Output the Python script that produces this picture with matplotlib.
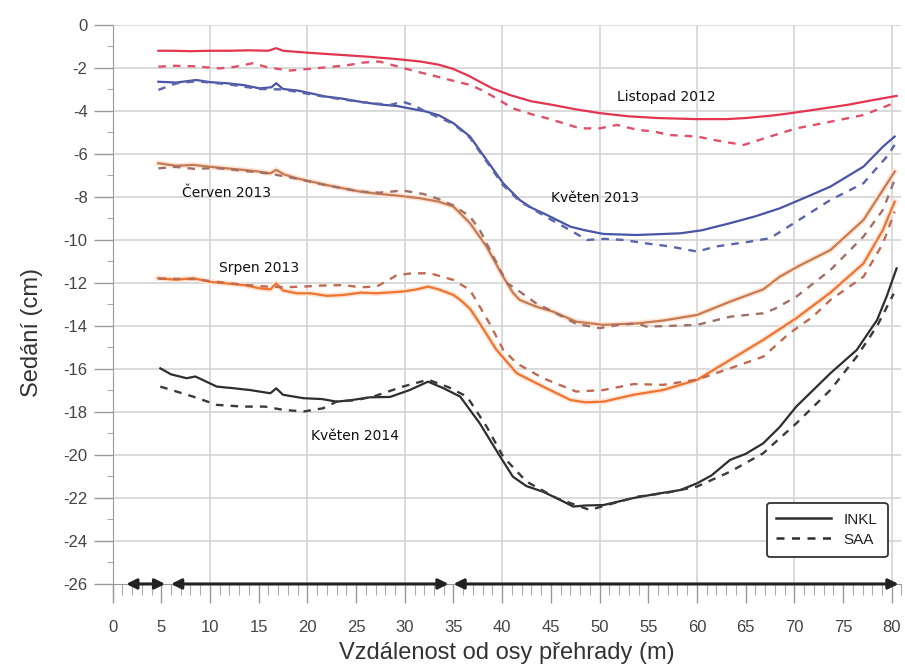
import matplotlib
matplotlib.use("Agg")
import matplotlib.pyplot as plt
import matplotlib.patheffects as pe
from matplotlib.ticker import MultipleLocator

plt.rcParams['axes.unicode_minus'] = False
plt.rcParams['font.family'] = ['Liberation Sans', 'DejaVu Sans']

# --- Listopad 2012 ---
lis12_inkl_x = [4.7, 6, 8, 10, 12, 14, 16, 16.8, 17.5, 20, 23, 26, 29, 31.6, 33.5, 35, 36.5, 37.7, 39,
                40.8, 43, 45.2, 47.5, 50, 53, 56, 60, 63, 65, 68, 70, 73, 75.4, 78, 80.5]
lis12_inkl_y = [-1.2, -1.2, -1.22, -1.2, -1.2, -1.18, -1.2, -1.08, -1.2, -1.29, -1.38, -1.47, -1.58, -1.7,
                -1.85, -2.05, -2.35, -2.64, -2.95, -3.26, -3.55, -3.72, -3.92, -4.1, -4.25, -4.33, -4.38,
                -4.38, -4.33, -4.2, -4.08, -3.88, -3.72, -3.5, -3.3]
lis12_saa_x = [4.7, 6.5, 8.3, 11, 12.5, 14.4, 16, 18.2, 20, 21.9, 24, 25.7, 27.4, 29.8, 31.5, 33.3, 35,
               36.7, 38, 39.4, 41.1, 43, 44.6, 46.5, 48, 50, 51.8, 53.9, 55.5, 57.2, 60, 62.7, 64.8, 67.5,
               70.2, 73.7, 77.1, 80.2]
lis12_saa_y = [-1.94, -1.9, -1.92, -2.02, -1.95, -1.78, -1.98, -2.12, -2.05, -1.97, -1.88, -1.75, -1.7,
               -2.0, -2.2, -2.4, -2.6, -2.79, -3.05, -3.41, -3.88, -4.15, -4.34, -4.6, -4.81, -4.81, -4.65,
               -4.88, -4.95, -5.12, -5.19, -5.43, -5.58, -5.19, -4.81, -4.5, -4.19, -3.64]

# --- Květen 2013 ---
kve13_inkl_x = [4.7, 6.5, 8.6, 10, 11.7, 13.5, 15.1, 16.3, 16.8, 17.5, 19, 21.9, 23.5, 25.4, 27.4, 29.2,
                30.7, 32.2, 33.5, 35, 36.7, 38.4, 40.1, 41.8, 43, 44.6, 47, 48.5, 50.4, 53.8, 58.3, 60.5,
                63.4, 66, 68.5, 71, 73.7, 77.1, 79.1, 80.3]
kve13_inkl_y = [-2.64, -2.68, -2.56, -2.66, -2.71, -2.8, -2.95, -2.9, -2.71, -2.98, -3.05, -3.33, -3.42,
                -3.57, -3.7, -3.77, -3.9, -4.03, -4.2, -4.57, -5.19, -6.28, -7.36, -8.14, -8.5, -8.84,
                -9.38, -9.55, -9.72, -9.77, -9.69, -9.55, -9.22, -8.9, -8.53, -8.05, -7.52, -6.59, -5.66,
                -5.19]
kve13_saa_x = [4.7, 6.5, 8.6, 11.7, 15.1, 17.5, 21.9, 25.4, 28.5, 29.8, 31, 32.2, 35, 36.7, 38.4, 40.1,
               41.8, 44.6, 47, 48.7, 50.5, 52.5, 54.8, 57.2, 60, 62, 65.4, 67.5, 70.2, 73.7, 77.1, 79.5,
               80.3]
kve13_saa_y = [-3.02, -2.72, -2.62, -2.75, -2.98, -3.0, -3.35, -3.58, -3.72, -3.57, -3.75, -4.05, -4.6,
               -5.25, -6.35, -7.45, -8.2, -8.95, -9.55, -10.0, -9.95, -10.0, -10.16, -10.3, -10.54,
               -10.3, -10.08, -9.92, -9.15, -8.14, -7.36, -6.12, -5.58]

# --- Červen 2013 ---
cer13_inkl_x = [4.7, 6.5, 8.3, 10.5, 13.4, 15, 16.2, 16.8, 17.6, 18.9, 21.9, 25.4, 27.4, 29.5, 31.6,
                33.5, 35, 36.7, 38.4, 40.1, 41.1, 41.8, 43.5, 45.2, 47.6, 50.4, 53.9, 56.5, 60, 63.5,
                66.8, 68.5, 70.5, 73.7, 77.1, 79.1, 80.3]
cer13_inkl_y = [-6.43, -6.55, -6.51, -6.62, -6.74, -6.82, -6.9, -6.74, -6.95, -7.13, -7.44, -7.75, -7.86,
                -7.95, -8.06, -8.22, -8.45, -9.22, -10.31, -11.71, -12.45, -12.79, -13.1, -13.33, -13.8,
                -13.95, -13.88, -13.75, -13.49, -12.85, -12.3, -11.71, -11.2, -10.47, -9.07, -7.67,
                -6.82]
cer13_saa_x = [4.7, 6.5, 8.5, 10.5, 13.4, 16.2, 18.9, 21.9, 25.4, 27.4, 29.8, 31.9, 33.5, 35, 36.7, 37.7,
               39.1, 40.5, 41.8, 43.5, 45.2, 47.6, 50, 52, 53.9, 54.8, 57, 60, 63.4, 66.8, 68, 70.2, 73.7,
               77.1, 79.1, 80.3]
cer13_saa_y = [-6.67, -6.6, -6.7, -6.65, -6.78, -6.92, -7.15, -7.45, -7.75, -7.8, -7.7, -7.86, -8.1,
               -8.4, -8.91, -9.53, -10.78, -12.0, -12.4, -12.95, -13.33, -13.9, -14.1, -13.95, -13.88,
               -14.03, -14.0, -13.95, -13.57, -13.41, -13.2, -12.64, -11.4, -9.84, -8.6, -7.2]

# --- Srpen 2013 ---
srp13_inkl_x = [4.7, 6.5, 8.3, 10, 11.7, 13.5, 15.1, 16.2, 16.8, 17.5, 18.9, 20.3, 22, 23.7, 25.5, 27.1,
                29.8, 31.2, 32.4, 33.5, 35, 35.7, 36.7, 37.7, 39.4, 41.5, 44.2, 47, 48.5, 50.4, 53.5,
                56.5, 60, 63.4, 66.8, 70.2, 73.7, 77.1, 79.1, 80.3]
srp13_inkl_y = [-11.78, -11.85, -11.78, -11.95, -12.02, -12.1, -12.25, -12.3, -12.02, -12.35, -12.48,
                -12.48, -12.6, -12.56, -12.45, -12.48, -12.4, -12.3, -12.17, -12.3, -12.56, -12.79,
                -13.2, -13.88, -15.1, -16.2, -16.82, -17.44, -17.55, -17.52, -17.2, -16.98, -16.51,
                -15.58, -14.65, -13.64, -12.45, -11.09, -9.53, -8.22]
srp13_saa_x = [4.7, 8.3, 11.7, 15.1, 17.5, 19.6, 21.5, 23.7, 25.5, 27.1, 28.2, 29.2, 30.8, 32.6, 35,
               36.7, 37.3, 38.7, 40.1, 41.5, 44.2, 47.6, 50.4, 53.5, 56.5, 60, 63.4, 66.8, 69.5, 71.9,
               73.7, 77.1, 79.1, 80.3]
srp13_saa_y = [-11.8, -11.82, -12.0, -12.15, -12.2, -12.17, -12.12, -12.1, -12.2, -12.17, -11.9,
               -11.63, -11.55, -11.55, -11.86, -12.33, -12.79, -13.88, -15.1, -15.74, -16.43, -17.05,
               -16.98, -16.7, -16.74, -16.5, -15.97, -15.43, -14.34, -13.57, -12.79, -11.71, -10.16,
               -8.68]

# --- Květen 2014 ---
kve14_inkl_x = [4.9, 6, 7.6, 8.5, 10.7, 12.5, 14.1, 16.2, 16.8, 17.5, 19.6, 21.5, 23, 24.5, 26.4, 28.5,
                30.5, 32.4, 34, 35.7, 37.7, 39.8, 41.1, 42.5, 44.2, 46, 47.3, 48.5, 50.4, 53.5, 56, 58.3,
                60, 61.5, 63.4, 65, 66.8, 68.5, 70.2, 73.7, 76.4, 78.5, 79.5, 80.5]
kve14_inkl_y = [-15.97, -16.25, -16.43, -16.35, -16.82, -16.9, -16.98, -17.13, -16.9, -17.2, -17.36,
                -17.4, -17.52, -17.45, -17.32, -17.3, -16.98, -16.59, -16.9, -17.29, -18.53, -20.08,
                -21.01, -21.45, -21.71, -22.1, -22.4, -22.35, -22.33, -22.0, -21.8, -21.63, -21.32,
                -20.95, -20.23, -19.95, -19.46, -18.7, -17.75, -16.2, -15.12, -13.72, -12.6, -11.32]
kve14_saa_x = [4.9, 8.3, 10.7, 13.4, 15.6, 17.5, 19.6, 21.6, 23, 25, 27, 29.8, 32.4, 34.5, 36.4, 38.4,
               40.1, 42.5, 45.6, 49, 51, 53.9, 57, 60, 63.4, 66.8, 70.2, 73.7, 76.4, 78.5, 80.2]
kve14_saa_y = [-16.82, -17.29, -17.67, -17.75, -17.75, -17.9, -17.98, -17.83, -17.52, -17.45, -17.25,
               -16.82, -16.5, -16.85, -17.29, -18.68, -20.08, -21.24, -22.01, -22.56, -22.3, -21.94,
               -21.75, -21.47, -20.78, -19.92, -18.53, -16.98, -15.43, -14.0, -12.5]

# curve labels: text, x, y
curve_labels = [("Listopad 2012", 56.9, -3.35),
                ("Květen 2013", 49.5, -8.05),
                ("Červen 2013", 11.7, -7.8),
                ("Srpen 2013", 15.0, -11.3),
                ("Květen 2014", 24.9, -19.1)]

# measured sections along the axis (start, end) in m
sections = [(1.4, 5.4), (6.0, 34.5), (35.0, 80.7)]

x_ticks = list(range(0, 81, 5))
y_ticks = list(range(-26, 1, 2))

fig = plt.figure(figsize=(9.05, 6.69), dpi=100)
ax = fig.add_axes([0.1244, 0.1271, 0.8717, 0.8356])
ax.set_xlim(0, 81)
ax.set_ylim(-26, 0)

# grid: vertical every 10 m, horizontal every 2 cm
for gx in range(10, 81, 10):
    ax.axvline(gx, color='#d4d4d4', lw=1.2, zorder=0)
for gy in range(-24, 1, 2):
    ax.axhline(gy, color='#d4d4d4', lw=1.2, zorder=0)

series = [
    (lis12_inkl_x, lis12_inkl_y, lis12_saa_x, lis12_saa_y, '#e3354f', '#e0506a', False),
    (kve13_inkl_x, kve13_inkl_y, kve13_saa_x, kve13_saa_y, '#4a54a6', '#5a64aa', False),
    (cer13_inkl_x, cer13_inkl_y, cer13_saa_x, cer13_saa_y, '#c87a50', '#a07068', True),
    (srp13_inkl_x, srp13_inkl_y, srp13_saa_x, srp13_saa_y, '#ee7430', '#c06a50', True),
    (kve14_inkl_x, kve14_inkl_y, kve14_saa_x, kve14_saa_y, '#2e2e2e', '#3a3a3a', False),
]
for xi, yi, xs, ys, c_solid, c_dash, halo in series:
    effects = [pe.Stroke(linewidth=4.0, foreground='#fde6d8'), pe.Normal()] if halo else None
    ax.plot(xi, yi, color=c_solid, lw=1.6, solid_joinstyle='round', zorder=3, path_effects=effects)
    ax.plot(xs, ys, color=c_dash, lw=1.7, dashes=(3.2, 3.0), zorder=4)

for txt, tx, ty in curve_labels:
    ax.text(tx, ty, txt, fontsize=10, family=['DejaVu Sans'], color='#111111',
            ha='center', va='center', zorder=5)

# double arrows marking the sections along the base line
for a, b in sections:
    ax.annotate('', xy=(b, -26), xytext=(a, -26),
                arrowprops=dict(arrowstyle='<|-|>', color='#222222', lw=2.2,
                                mutation_scale=15, shrinkA=0, shrinkB=0),
                annotation_clip=False, zorder=6)

# legend
ax.plot([], [], color='#2e2e2e', lw=1.8, label='INKL')
ax.plot([], [], color='#2e2e2e', lw=1.8, dashes=(3.2, 3.0), label='SAA')
leg = ax.legend(loc='lower right', bbox_to_anchor=(0.992, 0.035), fontsize=11,
                handlelength=3.6, handletextpad=0.8, borderpad=0.65, labelspacing=0.4,
                fancybox=True, framealpha=1, edgecolor='#333333')
leg.get_frame().set_linewidth(1.3)
for t in leg.get_texts():
    t.set_color('#222222')

# axes styling
for s in ('top', 'right'):
    ax.spines[s].set_visible(False)
ax.spines['left'].set_color('#999999')
ax.spines['bottom'].set_color('#999999')
ax.spines['left'].set_bounds(-26.7, 0)
ax.set_xticks(x_ticks)
ax.set_yticks(y_ticks)
ax.xaxis.set_minor_locator(MultipleLocator(1))
ax.yaxis.set_minor_locator(MultipleLocator(1))
ax.tick_params(axis='both', which='major', color='#999999', labelcolor='#444444',
               labelsize=12, length=14, width=1)
ax.tick_params(axis='x', which='minor', color='#aaaaaa', length=8, width=0.8)
ax.tick_params(axis='y', which='minor', color='#aaaaaa', length=4, width=0.8)
ax.tick_params(axis='x', which='major', pad=12)
ax.tick_params(axis='y', which='major', pad=4)

ax.set_xlabel('Vzdálenost od osy přehrady (m)', fontsize=17, color='#333333', labelpad=5)
ax.set_ylabel('Sedání (cm)', fontsize=17, color='#333333')
ax.yaxis.set_label_coords(-0.088, 0.45)

fig.savefig('out.png', dpi=100)
